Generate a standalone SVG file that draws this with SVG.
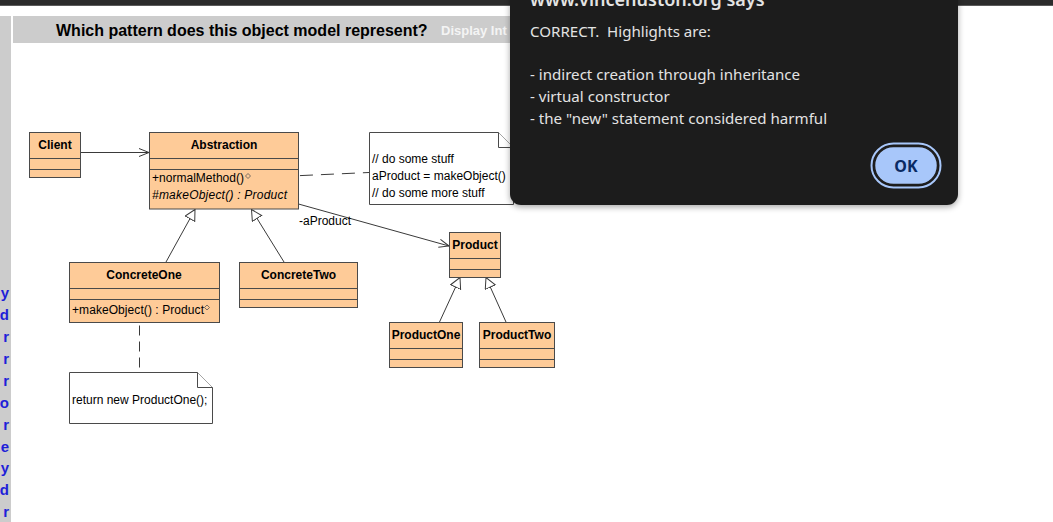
<svg xmlns="http://www.w3.org/2000/svg" width="1053" height="522" viewBox="0 0 1053 522">
<defs>
<style>
.cls{fill:#fecb98;stroke:#4a4a4a;stroke-width:1}
.sep{stroke:#4a4a4a;stroke-width:1}
.nm{font-family:"Liberation Sans",Arial,sans-serif;font-size:12px;font-weight:bold;fill:#000;text-anchor:middle}
.mb{font-family:"Liberation Sans",Arial,sans-serif;font-size:12px;fill:#000}
.note{fill:#fff;stroke:#4a4a4a;stroke-width:1}
.conn{fill:none;stroke:#3a3a3a;stroke-width:1}
.dash{fill:none;stroke:#3a3a3a;stroke-width:1;stroke-dasharray:13 8}
.side{font-family:"Liberation Sans",Arial,sans-serif;font-size:15px;font-weight:bold;fill:#1f1fd8;text-anchor:end}
.dlg{font-family:"Noto Sans","Open Sans",sans-serif;font-size:15.1px;fill:#e3e3e3}
</style>
<marker id="open" markerWidth="12" markerHeight="12" refX="10" refY="5" orient="auto" markerUnits="userSpaceOnUse">
<path d="M0,1 L10,5 L0,9" fill="none" stroke="#3a3a3a" stroke-width="1"/>
</marker>
<marker id="tri" markerWidth="14" markerHeight="14" refX="11" refY="6" orient="auto" markerUnits="userSpaceOnUse">
<path d="M0.5,0.5 L11,6 L0.5,11.5 Z" fill="#fff" stroke="#3a3a3a" stroke-width="1"/>
</marker>
<clipPath id="sideclip"><rect x="0" y="16" width="11" height="506"/></clipPath>
<filter id="shadow" x="-10%" y="-10%" width="120%" height="130%">
<feGaussianBlur in="SourceAlpha" stdDeviation="3"/>
<feOffset dy="2"/>
<feComponentTransfer><feFuncA type="linear" slope="0.35"/></feComponentTransfer>
<feMerge><feMergeNode/><feMergeNode in="SourceGraphic"/></feMerge>
</filter>
</defs>

<rect x="0" y="0" width="1053" height="522" fill="#fff"/>

<g id="page">
<rect x="0" y="0" width="1053" height="5" fill="#2b2b2b"/>
<rect x="0" y="5" width="1053" height="1" fill="#5a5a5a"/>
<rect x="0" y="16" width="11" height="506" fill="#cccccc"/>
<rect x="13" y="16" width="500" height="27" fill="#cccccc"/>
<text x="56" y="36" font-family="'Liberation Sans',Arial,sans-serif" font-size="16" font-weight="bold" fill="#000">Which pattern does this object model represent?</text>
<text x="441" y="35" font-family="'Liberation Sans',Arial,sans-serif" font-size="13" font-weight="bold" fill="#f4f4f4">Display Int</text>
<g clip-path="url(#sideclip)">
<text class="side" x="9" y="298">y</text>
<text class="side" x="9" y="320">d</text>
<text class="side" x="9" y="342">r</text>
<text class="side" x="9" y="364">r</text>
<text class="side" x="9" y="386">r</text>
<text class="side" x="9" y="408">o</text>
<text class="side" x="9" y="430">r</text>
<text class="side" x="9" y="452">e</text>
<text class="side" x="9" y="473">y</text>
<text class="side" x="9" y="495">d</text>
<text class="side" x="9" y="517">r</text>
</g>
</g>

<g id="connectors">
<line class="conn" x1="80.5" y1="152.5" x2="149" y2="152.5" marker-end="url(#open)"/>
<line class="dash" x1="258" y1="177.5" x2="369" y2="172.5"/>
<line class="conn" x1="298.5" y1="204" x2="449" y2="246" marker-end="url(#open)"/>
<line class="conn" x1="166" y1="262" x2="195" y2="209.5" marker-end="url(#tri)"/>
<line class="conn" x1="284" y1="262" x2="251.5" y2="209.5" marker-end="url(#tri)"/>
<line class="conn" x1="439.5" y1="322" x2="460" y2="277.5" marker-end="url(#tri)"/>
<line class="conn" x1="506" y1="322" x2="486" y2="277.5" marker-end="url(#tri)"/>
<line class="conn" x1="139.5" y1="322.5" x2="139.5" y2="372" stroke-dasharray="10 6" stroke-dashoffset="-3"/>
<text x="299" y="225" class="mb">-aProduct</text>
</g>

<g id="client">
<rect class="cls" x="29.5" y="132.5" width="51" height="45"/>
<line class="sep" x1="29.5" y1="158.5" x2="80.5" y2="158.5"/>
<line class="sep" x1="29.5" y1="169.5" x2="80.5" y2="169.5"/>
<text class="nm" x="55" y="149">Client</text>
</g>

<g id="abstraction">
<rect class="cls" x="149.5" y="132.5" width="149" height="76.5"/>
<line class="sep" x1="149.5" y1="158.5" x2="298.5" y2="158.5"/>
<line class="sep" x1="149.5" y1="169.5" x2="298.5" y2="169.5"/>
<text class="nm" x="224" y="149">Abstraction</text>
<text class="mb" x="152" y="182" textLength="92">+normalMethod()</text>
<path d="M248,173.5 L250.5,176 L248,178.5 L245.5,176 Z" fill="none" stroke="#555" stroke-width="0.8"/>
<text class="mb" x="152" y="199" font-style="italic" textLength="135">#makeObject() : Product</text>
</g>

<g id="note1">
<path class="note" d="M369.5,132.5 L498.5,132.5 L513.5,147.5 L513.5,204.5 L369.5,204.5 Z"/>
<path class="note" d="M498.5,132.5 L498.5,147.5 L513.5,147.5"/>
<text class="mb" x="372" y="163">// do some stuff</text>
<text class="mb" x="372" y="180">aProduct = makeObject()</text>
<text class="mb" x="372" y="197">// do some more stuff</text>
</g>

<g id="concreteOne">
<rect class="cls" x="69.5" y="262.5" width="150" height="60"/>
<line class="sep" x1="69.5" y1="288.5" x2="219.5" y2="288.5"/>
<line class="sep" x1="69.5" y1="299.5" x2="219.5" y2="299.5"/>
<text class="nm" x="144" y="279">ConcreteOne</text>
<text class="mb" x="72" y="314" textLength="132">+makeObject() : Product</text>
<path d="M207,305 L209.5,307.5 L207,310 L204.5,307.5 Z" fill="none" stroke="#555" stroke-width="0.8"/>
</g>

<g id="concreteTwo">
<rect class="cls" x="239.5" y="262.5" width="118" height="45"/>
<line class="sep" x1="239.5" y1="288.5" x2="357.5" y2="288.5"/>
<line class="sep" x1="239.5" y1="299.5" x2="357.5" y2="299.5"/>
<text class="nm" x="298.5" y="279">ConcreteTwo</text>
</g>

<g id="note2">
<path class="note" d="M69.5,372.5 L197.5,372.5 L212.5,387.5 L212.5,423.5 L69.5,423.5 Z"/>
<path class="note" d="M197.5,372.5 L197.5,387.5 L212.5,387.5"/>
<text class="mb" x="72" y="404">return new ProductOne();</text>
</g>

<g id="product">
<rect class="cls" x="449.5" y="232.5" width="51" height="45"/>
<line class="sep" x1="449.5" y1="258.5" x2="500.5" y2="258.5"/>
<line class="sep" x1="449.5" y1="269.5" x2="500.5" y2="269.5"/>
<text class="nm" x="475" y="249">Product</text>
</g>

<g id="productOne">
<rect class="cls" x="389.5" y="322.5" width="73" height="45"/>
<line class="sep" x1="389.5" y1="348.5" x2="462.5" y2="348.5"/>
<line class="sep" x1="389.5" y1="359.5" x2="462.5" y2="359.5"/>
<text class="nm" x="426" y="339">ProductOne</text>
</g>

<g id="productTwo">
<rect class="cls" x="479.5" y="322.5" width="75" height="45"/>
<line class="sep" x1="479.5" y1="348.5" x2="554.5" y2="348.5"/>
<line class="sep" x1="479.5" y1="359.5" x2="554.5" y2="359.5"/>
<text class="nm" x="517" y="339">ProductTwo</text>
</g>

<g id="dialog">
<rect x="510" y="-40" width="448" height="245" rx="11" fill="#1f1f1f" filter="url(#shadow)"/>
<text x="530" y="6" font-family="'Noto Sans','Open Sans',sans-serif" font-size="18" font-weight="600" fill="#e3e3e3">www.vincehuston.org says</text>
<text class="dlg" x="530" y="37" xml:space="preserve">CORRECT.  Highlights are:</text>
<text class="dlg" x="530" y="80">- indirect creation through inheritance</text>
<text class="dlg" x="530" y="102">- virtual constructor</text>
<text class="dlg" x="530" y="124">- the "new" statement considered harmful</text>
<rect x="871.5" y="143.5" width="69" height="44" rx="22" fill="none" stroke="#a8c7fa" stroke-width="2"/>
<rect x="874.5" y="146.5" width="63" height="38" rx="19" fill="#a8c7fa" stroke="#1f1f1f" stroke-width="1.5"/>
<text x="906" y="172" text-anchor="middle" font-family="'Noto Sans','Open Sans',sans-serif" font-size="16" font-weight="bold" fill="#0a2a63">OK</text>
</g>
</svg>
